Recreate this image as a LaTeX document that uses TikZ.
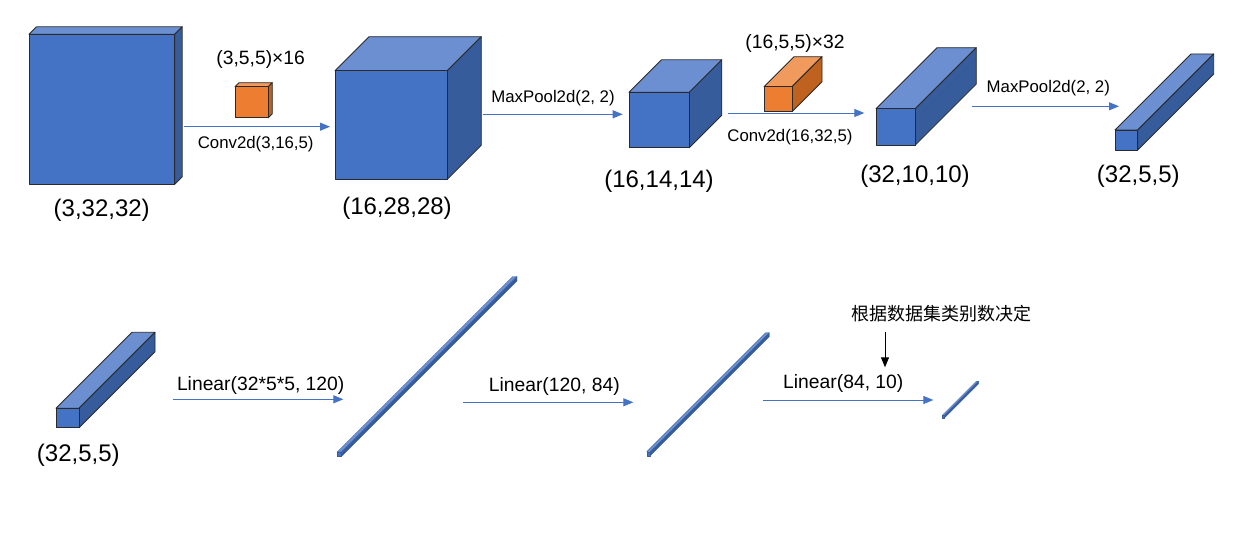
\documentclass[tikz,border=0pt]{standalone}
\usepackage{fontspec}
\setmainfont{Liberation Sans}
\newfontfamily\cjk{Noto Sans CJK SC}
\usetikzlibrary{arrows.meta}
\definecolor{bfront}{HTML}{4472C4}
\definecolor{btop}{HTML}{6B8FD0}
\definecolor{bside}{HTML}{365C9C}
\definecolor{ofront}{HTML}{ED7D31}
\definecolor{otop}{HTML}{F19A5E}
\definecolor{oside}{HTML}{C0621F}
\definecolor{edgecol}{HTML}{2A2A2A}
\definecolor{flowcol}{HTML}{4472C4}
\tikzset{
  edge/.style={draw=edgecol, line width=0.8pt, line join=round},
  rodedge/.style={draw=bside, line width=0.3pt},
  flow/.style={draw=flowcol, line width=1pt, -{Triangle[length=10pt,width=8pt]}},
  note/.style={draw=black, line width=1pt, -{Triangle[length=10pt,width=8pt]}},
  lbl/.style={inner sep=0pt, outer sep=0pt},
  big/.style={lbl, font=\fontsize{24}{28}\selectfont},
  mid/.style={lbl, font=\fontsize{19.3}{23}\selectfont},
  small/.style={lbl, font=\fontsize{16.8}{20}\selectfont},
}
% #1 options, #2 x, #3 y, #4 w, #5 h, #6 depth, #7 front, #8 top, #9 side
\newcommand\drawcuboid[9][]{%
  \filldraw[edge,fill=#8,#1] (#2,#3) -- ++(#6,-#6) -- ++(#4,0) -- ++(-#6,#6) -- cycle;
  \filldraw[edge,fill=#9,#1] (#2+#4,#3) -- ++(#6,-#6) -- ++(0,#5) -- ++(-#6,#6) -- cycle;
  \filldraw[edge,fill=#7,#1] (#2,#3) rectangle ++(#4,#5);
}
\begin{document}
\begin{tikzpicture}[x=1pt,y=-1pt]
\useasboundingbox (0,0) rectangle (1246,535);
\fill[white] (0,0) rectangle (1246,535);

% ---- top row boxes
\drawcuboid{29}{34.3}{145.7}{150}{7.5}{bfront}{btop}{bside}
\drawcuboid{335}{70.7}{112.3}{108.6}{34}{bfront}{btop}{bside}
\drawcuboid{629}{92.3}{60.3}{55.4}{32.5}{bfront}{btop}{bside}
\drawcuboid{876}{108.7}{39.3}{36.3}{61}{bfront}{btop}{bside}
\drawcuboid{1115}{130}{22.7}{20}{76}{bfront}{btop}{bside}
% kernels
\drawcuboid{235}{86.7}{33.3}{31}{4}{ofront}{otop}{oside}
\drawcuboid{764}{86.7}{28}{25}{30}{ofront}{otop}{oside}

% ---- bottom row boxes
\drawcuboid{56}{408.3}{23}{19.4}{76}{bfront}{btop}{bside}
\drawcuboid[rodedge]{337}{452}{4.5}{4.5}{175.5}{bfront}{btop}{bside}
\drawcuboid[rodedge]{646.7}{451.7}{3.6}{4}{119}{bfront}{btop}{bside}
\drawcuboid[rodedge]{942}{415.5}{2.4}{2.4}{34.3}{bfront}{btop}{bside}

% ---- connector end points
\coordinate (a1s) at (184,126.7);   \coordinate (a1e) at (330,126.7);
\coordinate (a2s) at (483.3,114.3); \coordinate (a2e) at (622.7,114.3);
\coordinate (a3s) at (728.3,113);   \coordinate (a3e) at (864.3,113);
\coordinate (a4s) at (971.7,106.3); \coordinate (a4e) at (1119,106.3);
\coordinate (a5s) at (172.7,399.3); \coordinate (a5e) at (343.3,399.3);
\coordinate (a6s) at (463.3,402.3); \coordinate (a6e) at (633.3,402.3);
\coordinate (a7s) at (762.7,400);   \coordinate (a7e) at (933.3,400);
\coordinate (ns) at (885,331.7);    \coordinate (ne) at (885,367.3);

\draw[flow] (a1s) -- (a1e);
\draw[flow] (a2s) -- (a2e);
\draw[flow] (a3s) -- (a3e);
\draw[flow] (a4s) -- (a4e);
\draw[flow] (a5s) -- (a5e);
\draw[flow] (a6s) -- (a6e);
\draw[flow] (a7s) -- (a7e);
\draw[note] (ns) -- (ne);

% ---- labels
\node[big] (s1) at (101.7,210) {(3,32,32)};
\node[big] (s2) at (397,208) {(16,28,28)};
\node[big] (s3) at (659,181.7) {(16,14,14)};
\node[big] (s4) at (915,176.7) {(32,10,10)};
\node[big] (s5) at (1138.3,176.7) {(32,5,5)};
\node[big] (s6) at (78.3,455) {(32,5,5)};

\node[mid] (k1) at (260.7,60) {(3,5,5)×16};
\node[small] (c1) at (255.7,144.3) {Conv2d(3,16,5)};
\node[small] (m1) at (553,97.7) {MaxPool2d(2, 2)};
\node[mid] (k2) at (795,44) {(16,5,5)×32};
\node[small] (c2) at (790,136.7) {Conv2d(16,32,5)};
\node[small] (m2) at (1048.3,88.3) {MaxPool2d(2, 2)};

\node[mid] (f1) at (260.7,385) {Linear(32*5*5, 120)};
\node[mid] (f2) at (554.3,386.5) {Linear(120, 84)};
\node[mid] (f3) at (843.3,384) {Linear(84, 10)};
\node[lbl, font=\cjk\fontsize{18}{22}\selectfont] (cn) at (941.7,313.3) {根据数据集类别数决定};
\end{tikzpicture}
\end{document}
